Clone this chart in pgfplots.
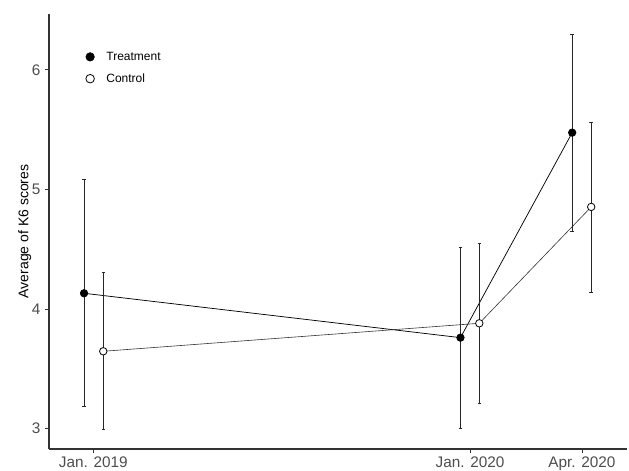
\documentclass[border=0pt]{standalone}
\usepackage{pgfplots}
\pgfplotsset{compat=1.18}
\usepackage{pgfplotstable}
\usepackage{fontspec}
\setmainfont{Liberation Sans}
\definecolor{axgray}{HTML}{333333}
\definecolor{labgray}{HTML}{4D4D4D}

% x: survey waves (Jan. 2019 = 0, Jan. 2020 = 1, Apr. 2020 = 1.297), groups dodged
\pgfplotstableread{
x       y      ep     em
-0.0245 4.132  0.956  0.948
0.9745  3.761  0.756  0.755
1.2710  5.475  0.825  0.825
}\treat
\pgfplotstableread{
x       y      ep     em
0.0265  3.647  0.663  0.652
1.0245  3.881  0.666  0.672
1.3215  4.854  0.708  0.711
}\ctrl

\begin{document}
\begin{tikzpicture}
\useasboundingbox (-36.75pt,-16.5pt) rectangle (435pt,336.75pt);
\begin{axis}[
  at={(0,0)}, anchor=south west,
  scale only axis,
  width=433.5pt, height=326.25pt,
  xmin=-0.1175, xmax=1.4165,
  ymin=2.83, ymax=6.467,
  axis x line*=bottom, axis y line*=left,
  axis line style={axgray, line width=0.8pt, -},
  xtick={0,1,1.297},
  xticklabels={Jan. 2019, Jan. 2020, Apr. 2020},
  ytick={3,4,5,6},
  tick align=outside, tick pos=left,
  major tick length=3pt,
  tick style={axgray, line width=0.6pt},
  ticklabel style={font=\fontsize{11.5}{13}\selectfont, text=labgray},
  /pgf/number format/assume math mode=true,
  xticklabel style={yshift=1pt},
  ylabel={Average of K6 scores},
  ylabel style={font=\fontsize{10.5}{12}\selectfont, yshift=-6.5pt},
  legend style={draw=none, fill=none, at={(0.061,0.923)}, anchor=north west,
    font=\fontsize{9}{10}\selectfont, row sep=4.5pt,
    inner sep=1pt,
    /tikz/every odd column/.append style={column sep=7pt}},
  legend cell align=left,
  clip=false,
]
\addlegendimage{only marks, mark=*, mark size=3.2pt, mark options={fill=black, draw=black}}
\addlegendentry{Treatment}
\addlegendimage{only marks, mark=*, mark size=3.2pt, mark options={fill=white, draw=black, line width=0.6pt}}
\addlegendentry{Control}

\addplot[forget plot, black, line width=0.55pt, mark=*, mark size=2.8pt,
  mark options={fill=black, draw=black},
  error bars/.cd, y dir=both, y explicit,
  error bar style={black!85, line width=0.6pt},
  error mark options={rotate=90, mark size=1.3pt, black!85, line width=0.6pt}]
  table[x=x, y=y, y error plus=ep, y error minus=em] {\treat};

\addplot[forget plot, black!80, line width=0.45pt, mark=*, mark size=2.8pt,
  mark options={fill=white, draw=black, line width=0.6pt},
  error bars/.cd, y dir=both, y explicit,
  error bar style={black!85, line width=0.6pt},
  error mark options={rotate=90, mark size=1.3pt, black!85, line width=0.6pt}]
  table[x=x, y=y, y error plus=ep, y error minus=em] {\ctrl};
\end{axis}
\end{tikzpicture}
\end{document}
